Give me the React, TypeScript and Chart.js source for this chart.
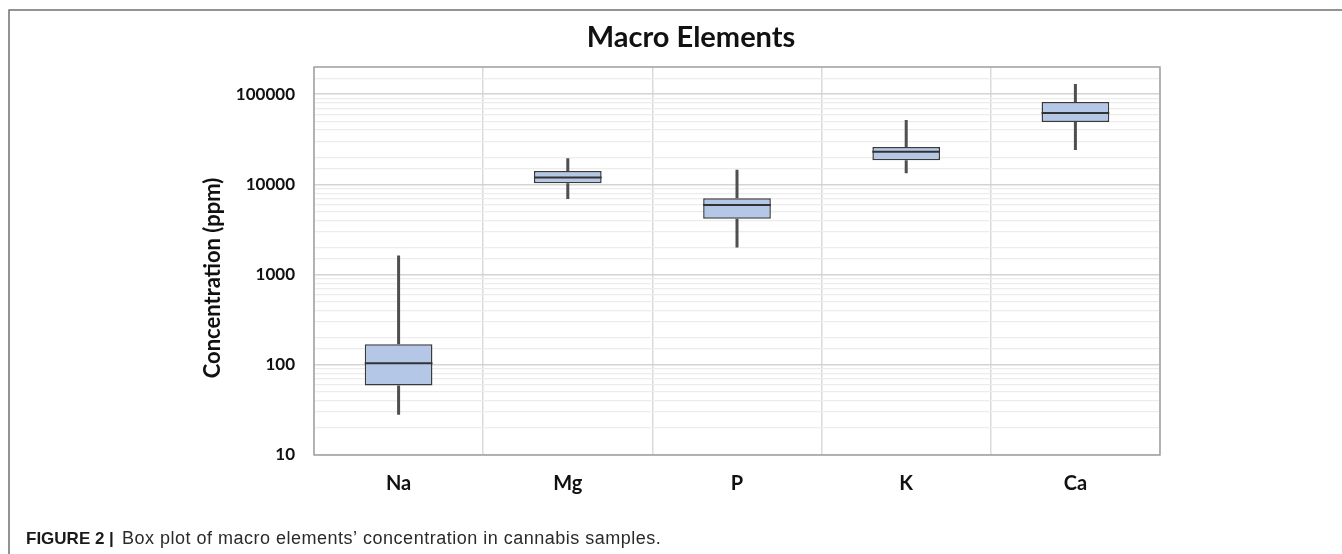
import React, { useEffect, useRef } from 'react';
import { Chart, registerables } from 'chart.js';

Chart.register(...registerables);

const categories = ['Na', 'Mg', 'P', 'K', 'Ca'];
const whiskerMin = [28, 6900, 2000, 13300, 24000];
const q1 = [59, 10300, 4150, 18500, 49000];
const median = [104, 11900, 5900, 23000, 62000];
const q3 = [169, 14100, 7000, 25900, 82000];
const whiskerMax = [1630, 19500, 14500, 51600, 130000];
const yTickLabels = [10, 100, 1000, 10000, 100000];

const chartTitle = 'Macro Elements';
const yAxisTitle = 'Concentration (ppm)';
const captionBold = 'FIGURE 2 |';
const captionText = 'Box plot of macro elements\u2019 concentration in cannabis samples.';

const W = 1342;
const H = 554;

const isPow10 = (v: number) => {
  const l = Math.log10(v);
  return Math.abs(l - Math.round(l)) < 1e-9;
};

export default function App() {
  const ref = useRef<HTMLCanvasElement>(null);

  useEffect(() => {
    const canvas = ref.current;
    if (!canvas) return;

    const boxPlugin = {
      id: 'boxExtras',
      beforeDatasetsDraw(chart: any) {
        const { ctx } = chart;
        const x = chart.scales.x;
        const y = chart.scales.y;
        ctx.save();
        ctx.strokeStyle = '#4f4f4f';
        ctx.lineWidth = 3;
        categories.forEach((_, i) => {
          const px = x.getPixelForValue(i);
          ctx.beginPath();
          ctx.moveTo(px, y.getPixelForValue(whiskerMax[i]));
          ctx.lineTo(px, y.getPixelForValue(q3[i]));
          ctx.moveTo(px, y.getPixelForValue(q1[i]));
          ctx.lineTo(px, y.getPixelForValue(whiskerMin[i]));
          ctx.stroke();
        });
        ctx.restore();
      },
      afterDatasetsDraw(chart: any) {
        const { ctx } = chart;
        const y = chart.scales.y;
        const meta = chart.getDatasetMeta(0);
        ctx.save();
        ctx.strokeStyle = '#333333';
        ctx.lineWidth = 2;
        meta.data.forEach((el: any, i: number) => {
          const py = y.getPixelForValue(median[i]);
          ctx.beginPath();
          ctx.moveTo(el.x - el.width / 2, py);
          ctx.lineTo(el.x + el.width / 2, py);
          ctx.stroke();
        });
        ctx.restore();
      },
      afterDraw(chart: any) {
        const { ctx, chartArea } = chart;
        ctx.save();
        // plot area border
        ctx.strokeStyle = '#a3a3a3';
        ctx.lineWidth = 1.5;
        ctx.strokeRect(chartArea.left, chartArea.top, chartArea.right - chartArea.left, chartArea.bottom - chartArea.top);
        // outer frame
        ctx.strokeStyle = '#707070';
        ctx.lineWidth = 1.5;
        ctx.beginPath();
        ctx.moveTo(9, H);
        ctx.lineTo(9, 10);
        ctx.lineTo(W, 10);
        ctx.stroke();
        // title
        ctx.fillStyle = '#111111';
        ctx.font = 'bold 29px Lato';
        ctx.textAlign = 'center';
        ctx.textBaseline = 'middle';
        ctx.fillText(chartTitle, 691, 38);
        // y axis title
        ctx.save();
        ctx.translate(213, 278);
        ctx.rotate(-Math.PI / 2);
        ctx.font = 'bold 22px Lato';
        ctx.fillText(yAxisTitle, 0, 0);
        ctx.restore();
        // caption
        ctx.textAlign = 'left';
        ctx.textBaseline = 'alphabetic';
        ctx.fillStyle = '#1a1a1a';
        ctx.font = 'bold 17px "Liberation Sans", Arial';
        ctx.fillText(captionBold, 26, 544);
        ctx.fillStyle = '#2a2a2a';
        ctx.font = '18px "Liberation Sans", Arial';
        (ctx as any).letterSpacing = '0.5px';
        ctx.fillText(captionText, 122, 544);
        (ctx as any).letterSpacing = '0px';
        ctx.restore();
      },
    };

    const chart = new Chart(canvas, {
      type: 'bar',
      data: {
        labels: categories,
        datasets: [
          {
            data: categories.map((_, i) => [q1[i], q3[i]]) as any,
            backgroundColor: '#b4c7e7',
            borderColor: '#3a3a3a',
            borderWidth: 1.5,
            borderSkipped: false,
            barPercentage: 0.4,
            categoryPercentage: 1,
          },
        ],
      },
      options: {
        responsive: false,
        animation: false,
        layout: { padding: { left: 0, top: 67, right: 182, bottom: 0 } },
        plugins: {
          legend: { display: false },
          tooltip: { enabled: false },
          title: { display: false },
        },
        scales: {
          x: {
            grid: { display: true, offset: true, color: '#dadada', lineWidth: 1.5, drawTicks: false },
            border: { display: false },
            ticks: {
              padding: 17,
              color: '#111111',
              font: { family: 'Lato', weight: 'bold', size: 20 },
            },
            afterFit: (s: any) => {
              s.height = 99;
            },
          },
          y: {
            type: 'logarithmic',
            min: 10,
            max: 200000,
            grid: {
              color: (c: any) => (c.tick && isPow10(c.tick.value) ? '#d4d4d4' : '#ececec'),
              lineWidth: (c: any) => (c.tick && isPow10(c.tick.value) ? 1.5 : 1.2),
              drawTicks: false,
            },
            border: { display: false },
            ticks: {
              autoSkip: false,
              padding: 19,
              color: '#111111',
              font: { family: 'Lato', weight: 'bold', size: 17 },
              callback: (v: any) => (yTickLabels.includes(Number(v)) ? String(v) : ''),
            },
            afterFit: (s: any) => {
              s.width = 314;
            },
          },
        },
      },
      plugins: [boxPlugin],
    });

    return () => chart.destroy();
  }, []);

  return (
    <div style={{ position: 'fixed', left: 0, top: 0, width: W, height: H, background: '#ffffff' }}>
      <canvas ref={ref} width={W} height={H} style={{ display: 'block' }} />
    </div>
  );
}
